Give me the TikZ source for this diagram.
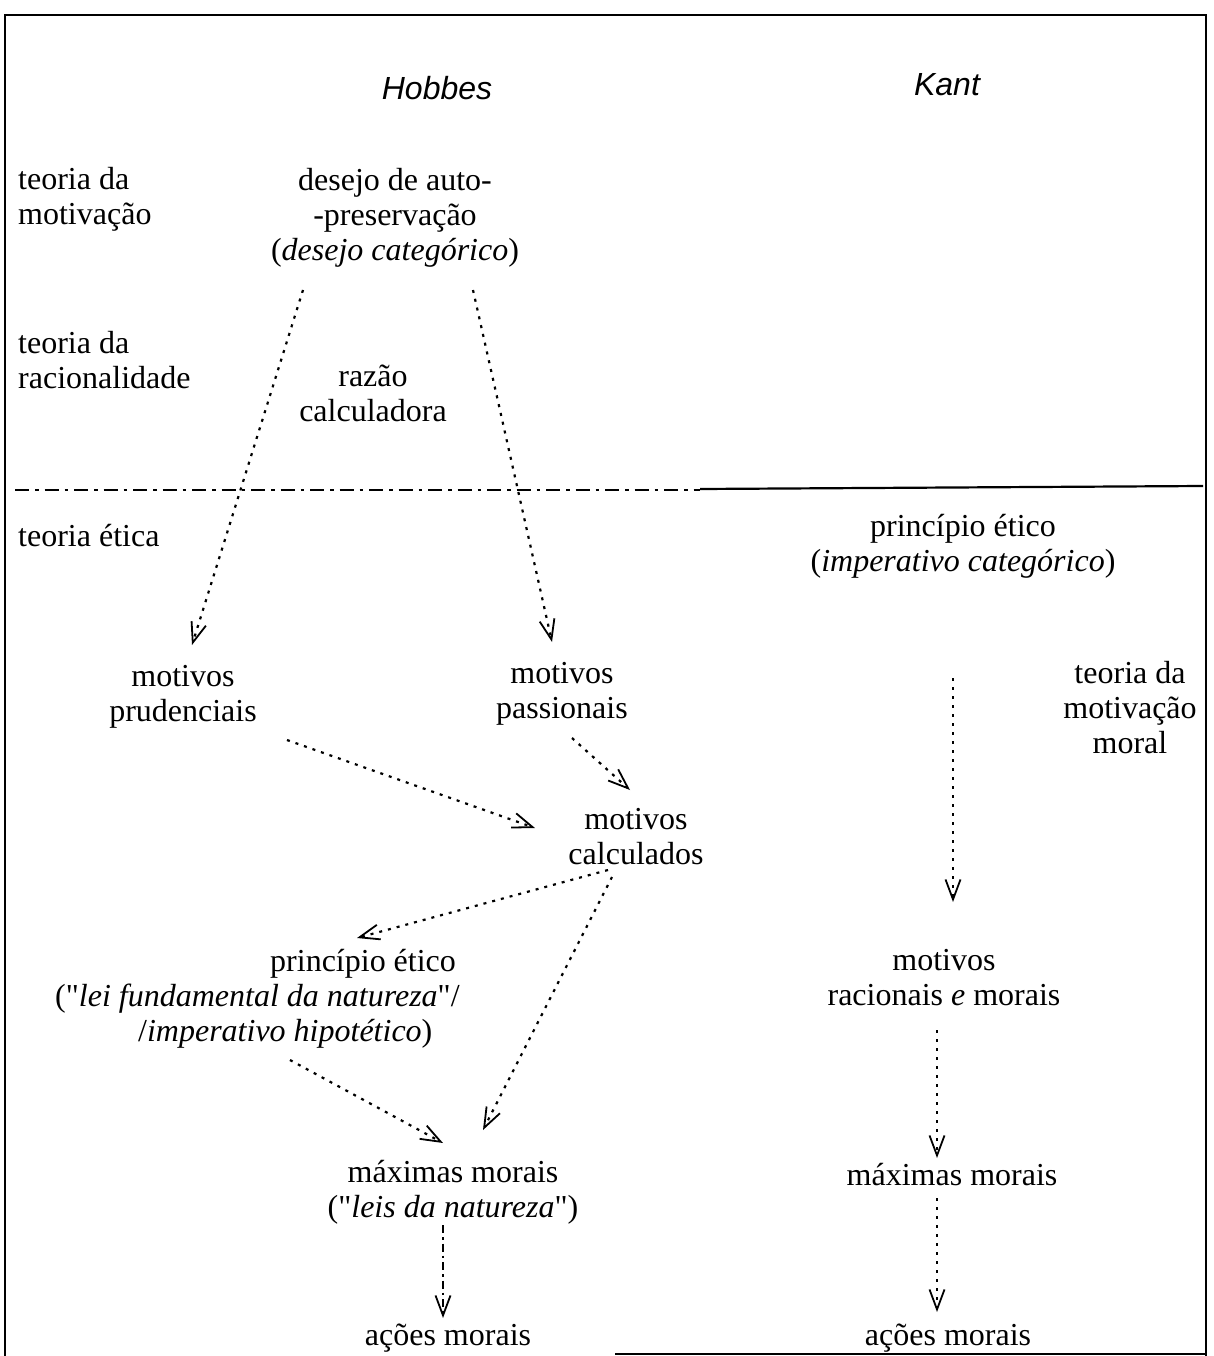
\documentclass[tikz,border=0pt]{standalone}
\usepackage{fontspec}
\setmainfont{Liberation Serif}
\newfontfamily\hfont{Liberation Sans}
\newfontfamily\qfont{Liberation Serif}[Ligatures=ResetAll]
\usetikzlibrary{arrows.meta}
\newcommand{\sq}{{\qfont"}}
\begin{document}
\begin{tikzpicture}[x=1pt,y=-1pt,
  txt/.style={font=\fontsize{32}{35}\selectfont, inner sep=0pt, align=center},
  lbl/.style={txt, align=left, anchor=west},
  hd/.style={font=\hfont\itshape\fontsize{32}{35}\selectfont, inner sep=0pt},
  arr/.style={line width=2.2pt, dash pattern=on 3pt off 6pt,
    -{Straight Barb[length=20pt,width=15pt,line width=1.8pt]}},
  arrdd/.style={line width=2.2pt, dash pattern=on 8pt off 4pt on 2.5pt off 4pt,
    -{Straight Barb[length=20pt,width=15pt,line width=1.8pt]}},
  frame/.style={line width=1.8pt}]
\useasboundingbox (0,0) rectangle (1213,1356);
% frame
\draw[frame] (5,1356) -- (5,15) -- (1206,15) -- (1206,1356);
\draw[frame] (615,1354) -- (1206,1354);
% separator
\draw[line width=2.4pt, dash pattern=on 14pt off 6pt on 3.5pt off 6pt] (15,490) -- (700,490);
\draw[line width=2.2pt] (700,489) -- (1203,486);
% headings
\node[hd] (hobbes) at (437,88) {Hobbes};
\node[hd] (kant) at (947,85) {Kant};
% left labels
\node[lbl] (tm) at (18,199) {teoria da\\motivação};
\node[lbl] (tr) at (18,360) {teoria da\\racionalidade};
\node[lbl] (te) at (18,536) {teoria ética};
% Hobbes column
\node[txt] (desejo) at (395,218) {desejo de auto-\\-preservação\\(\textit{desejo categórico})};
\node[txt] (razao) at (373,393) {razão\\calculadora};
\node[txt] (mp) at (183,697) {motivos\\prudenciais};
\node[txt] (mpa) at (562,694) {motivos\\passionais};
\node[txt] (mc) at (636,837) {motivos\\calculados};
\node[txt, align=left, anchor=west] (peh) at (55,999) {\hspace*{215pt}princípio ético\\(\sq\textit{lei fundamental da natureza}\sq/\\\hspace*{83pt}/\textit{imperativo hipotético})};
\node[txt] (mm) at (453,1192) {máximas morais\\(\sq\textit{leis da natureza}\sq)};
\node[txt] (am) at (448,1338) {ações morais};
% Kant column
\node[txt] (pek) at (963,546) {princípio ético\\(\textit{imperativo categórico})};
\node[txt] (tmm) at (1130,708) {teoria da\\motivação\\moral};
\node[txt] (mr) at (944,978) {motivos\\racionais \textit{e} morais};
\node[txt] (mmk) at (952,1175) {máximas morais};
\node[txt] (amk) at (948,1338) {ações morais};
% connector end points
\coordinate (a1s) at (303,290); \coordinate (a1e) at (192,645);
\coordinate (a2s) at (473,290); \coordinate (a2e) at (552,642);
\coordinate (a3s) at (287,740); \coordinate (a3e) at (535,828);
\coordinate (a4s) at (572,738); \coordinate (a4e) at (630,790);
\coordinate (a5s) at (608,870); \coordinate (a5e) at (357,938);
\coordinate (a6s) at (612,877); \coordinate (a6e) at (483,1130);
\coordinate (a7s) at (290,1060); \coordinate (a7e) at (443,1143);
\coordinate (a8s) at (443,1225); \coordinate (a8e) at (443,1318);
\coordinate (b1s) at (953,678); \coordinate (b1e) at (953,902);
\coordinate (b2s) at (937,1030); \coordinate (b2e) at (937,1158);
\coordinate (b3s) at (937,1198); \coordinate (b3e) at (937,1312);
% connectors
\draw[arr] (a1s) -- (a1e);
\draw[arr] (a2s) -- (a2e);
\draw[arr] (a3s) -- (a3e);
\draw[arr] (a4s) -- (a4e);
\draw[arr] (a5s) -- (a5e);
\draw[arr] (a6s) -- (a6e);
\draw[arr] (a7s) -- (a7e);
\draw[arrdd] (a8s) -- (a8e);
\draw[arr] (b1s) -- (b1e);
\draw[arr] (b2s) -- (b2e);
\draw[arr] (b3s) -- (b3e);
\end{tikzpicture}
\end{document}
